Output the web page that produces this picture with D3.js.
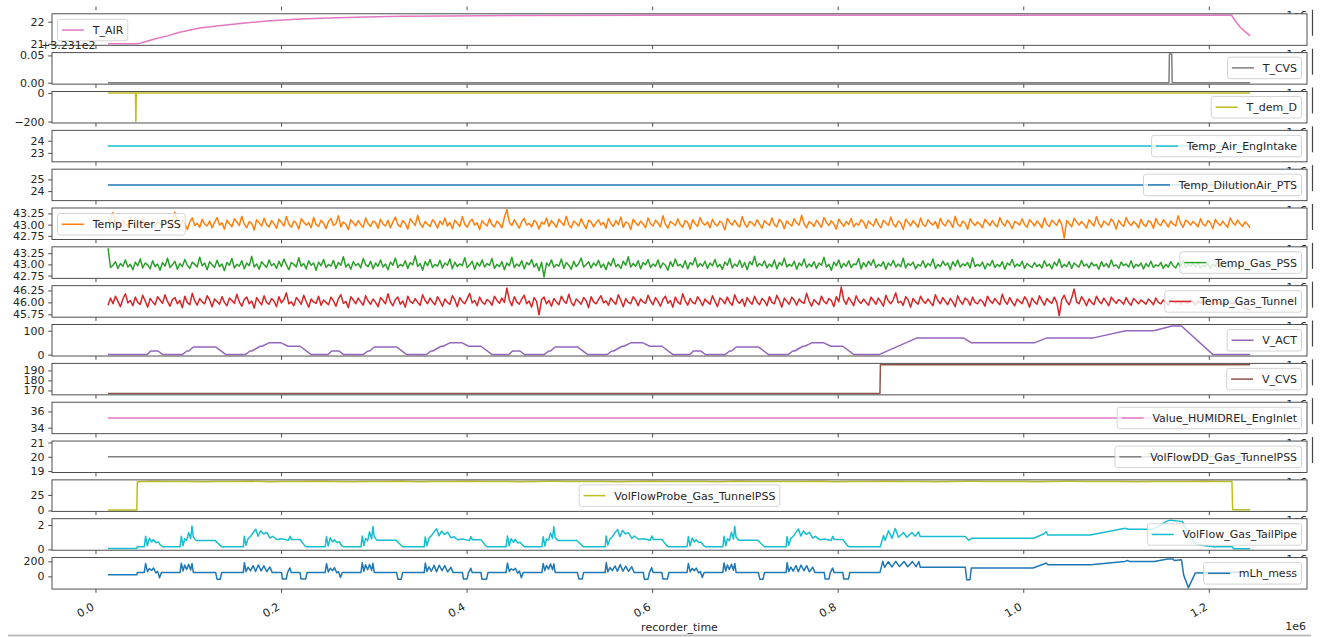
<!DOCTYPE html>
<html>
<head>
<meta charset="utf-8">
<script src="https://cdn.jsdelivr.net/npm/d3@7"></script>
<style>
  body { margin: 0; background: #ffffff; }
  svg text { font-family: "DejaVu Sans", sans-serif; }
</style>
</head>
<body>
<svg id="chart" width="1320" height="637"></svg>
<script>
// ---- recorder channels (times in seconds; recorder_time axis is in ms) ----
const seriesNames = ["T_AIR", "T_CVS", "T_dem_D", "Temp_Air_EngIntake", "Temp_DilutionAir_PTS",
  "Temp_Filter_PSS", "Temp_Gas_PSS", "Temp_Gas_Tunnel", "V_ACT", "V_CVS",
  "Value_HUMIDREL_EngInlet", "VolFlowDD_Gas_TunnelPSS", "VolFlowProbe_Gas_TunnelPSS",
  "VolFlow_Gas_TailPipe", "mLh_mess"];

const xTicksMs = [0, 200000, 400000, 600000, 800000, 1000000, 1200000];
const xTickLabels = ["0.0", "0.2", "0.4", "0.6", "0.8", "1.0", "1.2"];

const yTickValues = [[21, 22], [323.1, 323.15], [-200, 0], [23, 24], [24, 25],
  [42.75, 43, 43.25], [42.75, 43, 43.25], [45.75, 46, 46.25], [0, 100], [170, 180, 190],
  [34, 36], [19, 20, 21], [0, 25], [0, 2], [0, 200]];
const yTickLabels = [["21", "22"], ["0.00", "0.05"], ["\u2212200", "0"], ["23", "24"], ["24", "25"],
  ["42.75", "43.00", "43.25"], ["42.75", "43.00", "43.25"], ["45.75", "46.00", "46.25"], ["0", "100"],
  ["170", "180", "190"], ["34", "36"], ["19", "20", "21"], ["0", "25"], ["0", "2"], ["0", "200"]];

// ambient air temperature
const tAirT = [13, 45, 55, 65, 77, 90, 112, 130, 148, 166, 184, 202, 220, 252, 290, 330, 380, 450, 600, 900, 1224, 1226.3, 1230, 1233.5, 1239, 1244];
const tAirV = [21.00, 21.00, 21.12, 21.24, 21.36, 21.52, 21.71, 21.81, 21.88, 21.96, 22.03, 22.08, 22.12, 22.17, 22.21, 22.24, 22.26, 22.28, 22.29, 22.29, 22.29, 22.14, 21.93, 21.74, 21.54, 21.36];

// CVS temperature (short excursion near the end)
const tCvsT = [13, 1156.5, 1157, 1159.5, 1160, 1244];
const tCvsV = [323.1, 323.1, 323.1525, 323.1525, 323.1, 323.1];

// demanded temperature with one dropout
const tDemT = [13, 42.6, 43, 43.4, 1244];
const tDemV = [0, 0, -200, 0, 0];

// channels that stay constant over the run
const constT = [13, 1244];
const engIntakeV = [23.56, 23.56];
const dilutionAirV = [24.53, 24.53];
const humidRelV = [35.2, 35.2];
const volFlowDDV = [20, 20];

// fixed-rate sampled temperatures
const sampleStartS = 13;
const sampleStepS = 2.67;
const filterPssV = [
  43.05, 43.12, 43.27, 42.98, 43.06, 42.93, 43.10, 43.01, 42.96, 43.14, 43.03, 42.91, 43.08, 43.00, 43.17, 42.95, 43.04, 42.99, 43.11, 42.94, 43.07, 43.02,
  42.97, 43.13, 43.00, 42.92, 43.09, 43.28, 43.05, 42.96, 43.10, 43.02, 42.89, 43.06, 43.15, 42.98, 43.03, 42.94, 43.12, 43.01, 42.97, 43.08, 42.93, 43.05,
  43.16, 42.99, 43.04, 42.90, 43.10, 43.02, 42.95, 43.13, 43.06, 42.98, 43.19, 43.01, 42.93, 43.07, 43.03, 42.88, 43.11, 43.04, 42.97, 43.14, 43.00, 42.95,
  43.09, 43.02, 42.92, 43.12, 43.05, 42.97, 43.18, 43.01, 42.94, 43.08, 43.03, 42.90, 43.13, 43.06, 42.99, 43.04, 42.93, 43.16, 43.00, 42.96, 43.10, 43.03,
  42.91, 43.07, 43.14, 42.98, 43.02, 43.20, 42.95, 43.06, 43.01, 42.89, 43.11, 43.04, 42.97, 43.09, 43.00, 42.94, 43.15, 43.02, 42.96, 43.08, 43.05, 42.92,
  43.12, 43.01, 42.97, 43.10, 42.93, 43.06, 43.17, 43.00, 42.95, 43.09, 43.03, 42.90, 43.13, 43.05, 42.98, 43.21, 43.02, 42.94, 43.07, 43.01, 42.96, 43.11,
  43.04, 42.92, 43.08, 43.00, 43.15, 42.97, 43.05, 42.91, 43.10, 43.03, 42.96, 43.18, 43.01, 42.94, 43.07, 43.12, 42.99, 43.04, 42.89, 43.09, 43.02, 42.97,
  43.13, 43.00, 42.95, 43.08, 43.02, 42.93, 43.16, 43.34, 43.05, 42.98, 43.11, 43.01, 42.92, 43.07, 43.14, 42.99, 43.03, 42.95, 43.10, 43.04, 42.90, 43.06,
  43.01, 43.15, 42.96, 43.09, 43.02, 42.94, 43.12, 43.05, 42.98, 43.19, 43.00, 42.93, 43.08, 43.03, 42.97, 43.13, 43.01, 42.91, 43.10, 43.06, 42.95, 43.04,
  43.11, 42.99, 43.05, 42.92, 43.14, 43.02, 42.96, 43.09, 43.00, 43.17, 42.94, 43.06, 43.03, 42.89, 43.12, 43.04, 42.98, 43.08, 43.01, 42.93, 43.15, 43.02,
  42.97, 43.10, 43.04, 42.95, 43.20, 43.01, 42.92, 43.07, 43.03, 42.98, 43.13, 43.00, 42.94, 43.09, 43.05, 42.90, 43.11, 43.02, 42.96, 43.16, 43.04, 42.99,
  43.06, 42.93, 43.12, 43.01, 42.97, 43.08, 43.03, 42.88, 43.14, 43.05, 42.99, 43.10, 43.00, 42.95, 43.18, 43.02, 42.94, 43.07, 43.04, 42.97, 43.11, 43.01,
  42.92, 43.09, 43.03, 42.98, 43.15, 43.00, 42.95, 43.12, 43.06, 42.91, 43.08, 43.02, 42.97, 43.13, 43.04, 42.99, 43.21, 43.01, 42.93, 43.07, 43.03, 42.96,
  43.10, 43.02, 42.94, 43.16, 43.05, 42.98, 43.09, 43.01, 42.90, 43.12, 43.04, 42.96, 43.07, 43.00, 43.14, 42.95, 43.03, 42.99, 43.11, 43.06, 42.92, 43.08,
  43.02, 42.97, 43.13, 43.00, 42.93, 43.10, 43.04, 42.98, 43.17, 43.01, 42.95, 43.08, 43.03, 42.89, 43.12, 43.05, 42.97, 43.09, 43.02, 42.94, 43.15, 43.00,
  42.96, 43.11, 43.04, 42.99, 43.07, 42.92, 43.14, 43.02, 42.97, 43.10, 43.05, 42.94, 43.19, 43.01, 42.96, 43.08, 43.03, 42.90, 43.13, 43.04, 42.98, 43.06,
  43.01, 42.93, 43.12, 43.05, 42.98, 43.09, 43.00, 42.95, 43.16, 43.03, 42.97, 43.10, 43.02, 42.91, 43.07, 43.04, 42.99, 43.13, 43.00, 42.94, 43.11, 43.05,
  42.97, 43.08, 43.02, 42.93, 43.15, 43.01, 42.96, 43.10, 43.04, 42.98, 43.12, 43.00, 42.70, 43.09, 43.03, 42.95, 43.14, 43.06, 42.99, 43.07, 43.01, 42.92,
  43.11, 43.04, 42.97, 43.18, 43.02, 42.94, 43.08, 43.03, 42.99, 43.13, 43.05, 42.90, 43.10, 43.01, 42.96, 43.16, 43.04, 42.98, 43.07, 43.02, 42.93, 43.12,
  43.00, 42.96, 43.09, 43.05, 42.92, 43.14, 43.02, 42.98, 43.11, 43.04, 42.95, 43.08, 43.01, 42.97, 43.20, 43.03, 42.94, 43.10, 43.06, 42.99, 43.07, 43.02,
  42.95, 43.13, 43.01, 42.97, 43.09, 43.04, 42.91, 43.12, 43.03, 42.98, 43.08, 43.00, 42.94, 43.15, 43.05, 42.99, 43.10, 43.02, 42.96, 43.06, 43.01, 42.93];
const gasPssV = [
  43.36, 42.93, 42.98, 43.06, 42.91, 43.02, 42.96, 43.10, 42.94, 43.00, 42.88, 43.05, 42.97, 43.12, 42.92, 43.03, 42.99, 42.90, 43.08, 42.95, 43.01, 42.87,
  43.04, 42.96, 43.14, 42.93, 42.99, 43.07, 42.89, 43.02, 42.95, 43.11, 42.98, 42.91, 43.05, 43.00, 42.94, 43.16, 42.97, 43.03, 42.88, 43.06, 42.99, 42.93,
  43.09, 42.95, 43.01, 42.86, 43.04, 42.98, 43.13, 42.92, 43.00, 42.96, 43.08, 42.90, 43.03, 42.97, 43.18, 42.94, 43.01, 42.89, 43.06, 42.99, 42.93, 43.10,
  42.97, 43.02, 42.91, 43.07, 42.95, 43.12, 42.99, 42.88, 43.04, 43.00, 42.94, 43.15, 42.96, 43.02, 42.90, 43.08, 42.98, 43.03, 42.87, 43.05, 42.97, 43.11,
  42.93, 43.00, 42.96, 43.09, 42.91, 43.04, 42.98, 43.17, 42.94, 43.01, 42.89, 43.06, 42.97, 43.02, 42.92, 43.13, 42.99, 42.95, 43.07, 42.90, 43.03, 42.96,
  43.10, 42.94, 43.01, 42.88, 43.05, 42.98, 43.14, 42.93, 43.00, 42.96, 43.08, 42.91, 43.04, 42.99, 43.19, 42.95, 43.02, 42.87, 43.06, 42.97, 43.11, 42.93,
  43.00, 42.96, 43.09, 42.92, 43.03, 42.98, 43.12, 42.90, 43.05, 42.95, 43.01, 42.97, 43.15, 42.93, 42.99, 43.07, 42.89, 43.04, 42.96, 43.10, 42.94, 43.02,
  42.98, 43.13, 42.91, 43.00, 42.95, 43.06, 42.88, 43.03, 42.97, 43.16, 42.93, 43.01, 42.96, 43.08, 42.90, 43.04, 42.99, 43.11, 42.94, 43.02, 42.86, 43.05,
  42.72, 43.03, 42.97, 43.10, 42.93, 43.00, 42.96, 43.12, 42.91, 43.04, 42.98, 42.89, 43.07, 42.95, 43.02, 43.14, 42.94, 42.99, 43.06, 42.92, 43.03, 42.97,
  43.09, 42.93, 43.01, 42.88, 43.05, 42.97, 43.13, 42.95, 43.00, 42.91, 43.07, 42.98, 43.17, 42.94, 43.02, 42.96, 43.08, 42.90, 43.04, 42.99, 43.11, 42.93,
  43.01, 42.96, 43.10, 42.92, 43.03, 42.98, 42.87, 43.06, 42.95, 43.12, 42.97, 43.00, 42.93, 43.08, 42.90, 43.04, 42.99, 43.15, 42.94, 43.02, 42.96, 43.07,
  42.91, 43.03, 42.97, 43.11, 42.94, 43.00, 42.89, 43.05, 42.98, 43.13, 42.92, 43.01, 42.96, 43.09, 42.93, 43.04, 42.88, 43.06, 42.99, 43.18, 42.95, 43.02,
  42.97, 43.08, 42.92, 43.01, 42.95, 43.10, 42.90, 43.04, 42.98, 43.14, 42.94, 43.00, 42.96, 43.07, 42.89, 43.03, 42.97, 43.12, 42.93, 43.01, 42.95, 43.06,
  42.91, 43.03, 42.98, 43.16, 42.94, 43.00, 42.87, 43.05, 42.97, 43.10, 42.92, 43.02, 42.96, 43.08, 42.93, 43.01, 42.99, 43.13, 42.90, 43.04, 42.95, 43.07,
  42.98, 43.11, 42.93, 43.00, 42.96, 43.06, 42.89, 43.03, 42.97, 43.09, 42.94, 43.01, 42.95, 43.14, 42.92, 43.02, 42.98, 43.05, 42.90, 43.00, 42.96, 43.08,
  42.93, 43.02, 42.97, 43.12, 42.91, 43.00, 42.95, 43.07, 42.98, 43.03, 42.88, 43.06, 42.96, 43.10, 42.94, 43.01, 42.97, 43.04, 42.92, 43.15, 42.95, 43.00,
  42.96, 43.05, 42.90, 43.02, 42.97, 43.09, 42.93, 43.00, 42.95, 43.06, 42.89, 43.03, 42.98, 43.11, 42.94, 43.01, 42.96, 43.07, 42.91, 43.02, 42.97, 42.93,
  43.04, 42.95, 43.00, 42.92, 43.08, 42.96, 43.01, 42.90, 43.05, 42.97, 43.12, 42.93, 43.00, 42.95, 43.06, 42.91, 43.03, 42.98, 42.94, 43.09, 42.96, 43.01,
  42.92, 43.04, 42.97, 43.00, 42.89, 43.06, 42.95, 43.02, 42.93, 43.10, 42.96, 42.99, 42.91, 43.05, 42.97, 43.01, 42.94, 43.08, 42.92, 43.00, 42.96, 43.03,
  42.90, 43.02, 42.95, 43.07, 42.93, 42.99, 42.96, 43.04, 42.91, 43.00, 42.94, 43.06, 42.97, 42.92, 43.03, 42.95, 43.09, 42.93, 43.00, 42.96, 43.02, 42.94,
  43.05, 42.92, 42.98, 42.95, 43.03, 42.90, 43.01, 42.96, 43.07, 42.93, 42.99, 42.94, 43.04, 42.91, 43.00, 42.95, 43.02, 42.93, 42.97, 42.90, 42.88, 42.84];
const gasTunnelV = [
  45.94, 46.09, 45.97, 46.13, 46.02, 45.91, 46.07, 46.18, 45.99, 46.04, 45.93, 46.11, 46.00, 45.96, 46.15, 46.03, 45.90, 46.08, 46.01, 45.95, 46.12, 46.05,
  45.98, 46.16, 46.02, 45.92, 46.06, 46.10, 45.97, 46.04, 45.89, 46.13, 46.00, 45.95, 46.19, 46.03, 45.94, 46.08, 46.01, 45.97, 46.14, 46.05, 45.91, 46.07,
  46.02, 45.96, 46.12, 46.00, 45.93, 46.09, 46.04, 45.98, 46.17, 46.01, 45.92, 46.06, 46.11, 45.97, 46.03, 45.88, 46.10, 46.02, 45.95, 46.14, 46.00, 45.96,
  46.08, 46.03, 45.91, 46.12, 45.99, 46.06, 46.20, 45.97, 46.01, 45.93, 46.10, 46.04, 45.96, 46.15, 46.02, 45.90, 46.07, 46.01, 45.98, 46.13, 45.94, 46.05,
  46.00, 45.95, 46.11, 46.03, 45.92, 46.08, 46.16, 45.98, 46.02, 45.89, 46.12, 46.05, 45.97, 46.09, 46.01, 45.94, 46.14, 46.03, 45.96, 46.07, 46.00, 45.91,
  46.10, 46.04, 45.97, 46.18, 46.01, 45.93, 46.06, 46.11, 45.96, 46.03, 45.90, 46.13, 46.02, 45.98, 46.08, 46.00, 45.94, 46.16, 46.04, 45.97, 46.09, 46.01,
  45.95, 46.12, 46.03, 45.92, 46.07, 46.00, 45.96, 46.14, 46.05, 45.91, 46.10, 46.02, 45.97, 46.08, 46.19, 45.99, 46.04, 45.93, 46.11, 46.01, 45.96, 46.06,
  46.02, 45.94, 46.13, 46.04, 45.98, 46.09, 46.00, 46.30, 46.05, 45.93, 46.12, 46.01, 45.96, 46.07, 46.15, 45.97, 46.03, 45.90, 46.10, 46.02, 45.74, 46.06,
  46.11, 45.97, 46.04, 45.92, 46.08, 46.01, 45.95, 46.13, 46.03, 45.98, 46.17, 46.00, 45.93, 46.07, 46.02, 45.96, 46.10, 46.04, 45.89, 46.12, 46.01, 45.97,
  46.06, 46.14, 45.99, 46.03, 45.94, 46.09, 46.02, 45.96, 46.16, 46.04, 45.91, 46.08, 46.00, 45.97, 46.12, 46.05, 45.93, 46.07, 46.01, 45.98, 46.15, 46.03,
  45.95, 46.10, 46.02, 45.92, 46.06, 46.13, 45.98, 46.04, 45.90, 46.11, 46.01, 45.96, 46.18, 46.03, 45.94, 46.08, 46.00, 45.97, 46.12, 46.04, 45.93, 46.07,
  46.01, 45.96, 46.14, 46.02, 45.91, 46.09, 46.05, 45.97, 46.11, 46.00, 45.94, 46.16, 46.03, 45.98, 46.07, 45.92, 46.10, 46.02, 45.96, 46.13, 46.01, 45.95,
  46.08, 46.03, 45.93, 46.12, 46.00, 45.97, 46.15, 46.04, 45.90, 46.09, 46.02, 45.96, 46.11, 46.05, 45.94, 46.07, 46.01, 45.98, 46.19, 46.03, 45.92, 46.06,
  46.00, 45.95, 46.13, 46.02, 45.97, 46.08, 46.04, 45.91, 46.12, 46.01, 46.32, 46.05, 45.96, 46.10, 46.02, 45.93, 46.14, 46.03, 45.98, 46.07, 46.00, 45.94,
  46.11, 46.04, 45.96, 46.09, 46.01, 45.92, 46.15, 46.03, 45.97, 46.06, 46.20, 45.99, 46.02, 45.94, 46.12, 46.05, 45.90, 46.08, 46.01, 45.96, 46.13, 46.03,
  45.98, 46.07, 46.00, 45.93, 46.16, 46.04, 45.97, 46.10, 46.02, 45.95, 46.08, 46.01, 45.91, 46.14, 46.03, 45.96, 46.09, 46.05, 45.94, 46.11, 46.00, 45.97,
  46.06, 46.02, 45.92, 46.13, 46.04, 45.98, 46.08, 46.01, 45.95, 46.17, 46.03, 45.96, 46.10, 46.00, 45.93, 46.07, 46.02, 45.97, 46.12, 46.04, 45.90, 46.09,
  46.01, 45.96, 46.14, 46.03, 45.94, 46.08, 46.02, 45.98, 46.11, 46.00, 45.72, 46.06, 46.15, 46.02, 45.95, 46.09, 46.28, 46.01, 45.97, 46.12, 46.04, 45.93,
  46.07, 46.00, 45.95, 46.13, 46.03, 45.97, 46.09, 46.01, 45.93, 46.11, 46.04, 45.98, 46.06, 46.02, 45.96, 46.10, 46.00, 45.94, 46.08, 46.03, 45.97, 46.05,
  46.01, 45.96, 46.07, 46.02, 45.95, 46.09, 46.00, 45.97, 46.05, 46.01, 45.94, 46.06, 46.02, 45.98, 46.04, 45.96, 46.03, 46.00, 45.97, 46.05, 46.01, 45.95,
  46.03, 45.98, 46.02, 45.96, 46.04, 46.00, 45.97, 46.03, 45.99, 46.01, 45.96, 46.02, 45.98, 46.00, 45.97, 46.01, 45.95, 45.99, 45.92, 45.88, 45.86, 45.84];

// vehicle speed, km/h: four urban cycles followed by the extra-urban part
const vActT = [13,
  44, 55, 59, 67, 72, 93, 98, 100, 105, 129, 140, 161, 166, 168, 177, 179, 187, 199, 207, 220, 232,
  250, 254, 262, 267, 288, 293, 295, 300, 324, 335, 356, 361, 363, 372, 374, 382, 394, 402, 415, 427,
  445, 449, 457, 462, 483, 488, 490, 495, 519, 530, 551, 556, 558, 567, 569, 577, 589, 597, 610, 622,
  640, 644, 652, 657, 678, 683, 685, 690, 714, 725, 746, 751, 753, 762, 764, 772, 784, 792, 805, 817,
  844, 885, 935, 943, 1012, 1025, 1075, 1110, 1140, 1160, 1170, 1204, 1244];
const vActV = [0,
  0, 0, 15, 15, 0, 0, 15, 15, 32, 32, 0, 0, 15, 15, 35, 35, 50, 50, 35, 35, 0,
  0, 15, 15, 0, 0, 15, 15, 32, 32, 0, 0, 15, 15, 35, 35, 50, 50, 35, 35, 0,
  0, 15, 15, 0, 0, 15, 15, 32, 32, 0, 0, 15, 15, 35, 35, 50, 50, 35, 35, 0,
  0, 15, 15, 0, 0, 15, 15, 32, 32, 0, 0, 15, 15, 35, 35, 50, 50, 35, 35, 0,
  0, 70, 70, 50, 50, 70, 70, 100, 100, 120, 120, 0, 0];

// CVS flow setpoint
const vCvsT = [13, 845, 845.5, 1244];
const vCvsV = [167, 167, 195.6, 195.6];

// probe volume flow
const probeT = [13, 44,
  44.6, 62, 78, 97, 115, 131, 150, 168, 186, 203, 222, 240, 257, 275, 294, 311, 330, 348, 365, 384,
  402, 420, 437, 456, 474, 491, 510, 528, 546, 563, 582, 600, 617, 636, 654, 671, 690, 708, 726, 743,
  762, 780, 797, 816, 834, 851, 870, 888, 906, 923, 942, 960, 977, 996, 1014, 1031, 1050, 1068, 1086, 1103,
  1122, 1140, 1157, 1176, 1194, 1212, 1224.4,
  1225.2, 1244];
const probeV = [0.8, 0.8,
  46.4, 46.9, 46.5, 46.8, 46.3, 46.7, 46.6, 47.0, 46.4, 46.8, 46.5, 46.9, 46.6, 46.3, 46.8, 46.5, 46.9, 46.4, 46.7, 46.6,
  47.0, 46.5, 46.8, 46.4, 46.7, 46.9, 46.5, 46.6, 46.8, 46.3, 46.7, 46.9, 46.5, 46.8, 46.6, 46.4, 46.9, 46.7, 46.5, 46.8,
  46.6, 47.0, 46.4, 46.7, 46.5, 46.9, 46.6, 46.8, 46.4, 46.7, 46.9, 46.5, 46.8, 46.6, 46.3, 46.7, 46.9, 46.5, 46.8, 46.6,
  46.4, 46.8, 46.7, 46.5, 46.9, 46.6, 46.7,
  1.2, 1.0];

// tailpipe exhaust volume flow
const tailPipeT = [13, 44, 44.5,
  52, 53.5, 55.3, 57.5, 60, 61.8, 64.7, 67.2, 69.7, 72, 90.6, 92, 93.8, 95.6, 97.8, 99.9, 102.1, 103.5, 104.9, 107.8, 128.3, 135.5, 158.8, 159.9, 161.7, 163.9, 166.8, 169.6, 172.2, 174.7, 177.6, 180.4, 184, 187.6, 190.5, 194.8, 200.2, 207.4, 209.2, 210.6, 219.9, 225.3, 227.2,
  247, 248.5, 250.3, 252.5, 255, 256.8, 259.7, 262.2, 264.7, 267, 285.6, 287, 288.8, 290.6, 292.8, 294.9, 297.1, 298.5, 299.9, 302.8, 323.3, 330.5, 353.8, 354.9, 356.7, 358.9, 361.8, 364.6, 367.2, 369.7, 372.6, 375.4, 379, 382.6, 385.5, 389.8, 395.2, 402.4, 404.2, 405.6, 414.9, 420.3, 422.2,
  442, 443.5, 445.3, 447.5, 450, 451.8, 454.7, 457.2, 459.7, 462, 480.6, 482, 483.8, 485.6, 487.8, 489.9, 492.1, 493.5, 494.9, 497.8, 518.3, 525.5, 548.8, 549.9, 551.7, 553.9, 556.8, 559.6, 562.2, 564.7, 567.6, 570.4, 574, 577.6, 580.5, 584.8, 590.2, 597.4, 599.2, 600.6, 609.9, 615.3, 617.2,
  637, 638.5, 640.3, 642.5, 645, 646.8, 649.7, 652.2, 654.7, 657, 675.6, 677, 678.8, 680.6, 682.8, 684.9, 687.1, 688.5, 689.9, 692.8, 713.3, 720.5, 743.8, 744.9, 746.7, 748.9, 751.8, 754.6, 757.2, 759.7, 762.6, 765.4, 769, 772.6, 775.5, 779.8, 785.2, 792.4, 794.2, 795.6, 804.9, 810.3, 812.2,
  845.3, 848.9, 850.7, 854.2, 857.9, 861.5, 865, 870.4, 874, 879.4, 883, 886.6, 888.4, 937, 940.5, 944.1, 1010.6, 1021.4, 1024, 1025.7, 1071.7, 1109.4, 1113, 1139.6, 1154.4, 1158, 1167, 1171, 1180, 1186, 1195, 1205, 1225, 1226, 1244];
const tailPipeV = [0.08, 0.08, 0.21,
  0.21, 1.08, 0.29, 0.92, 0.60, 0.81, 0.55, 0.60, 0.34, 0.21, 0.21, 1.08, 0.29, 0.87, 0.74, 1.39, 0.87, 1.92, 1.00, 0.74, 0.74, 0.21, 0.21, 1.08, 0.34, 0.87, 1.08, 1.39, 1.66, 1.08, 1.53, 1.26, 1.39, 0.92, 1.08, 0.81, 0.87, 0.74, 1.08, 0.81, 0.81, 0.29, 0.21,
  0.21, 1.05, 0.27, 0.95, 0.62, 0.78, 0.57, 0.63, 0.32, 0.21, 0.21, 1.10, 0.31, 0.90, 0.70, 1.45, 0.85, 1.88, 1.02, 0.76, 0.76, 0.21, 0.21, 1.02, 0.30, 0.92, 1.15, 1.45, 1.70, 1.12, 1.50, 1.22, 1.42, 0.95, 1.05, 0.79, 0.85, 0.72, 1.05, 0.80, 0.80, 0.27, 0.21,
  0.21, 1.10, 0.30, 0.88, 0.58, 0.83, 0.52, 0.58, 0.36, 0.21, 0.21, 1.04, 0.28, 0.85, 0.76, 1.35, 0.90, 1.85, 0.98, 0.73, 0.73, 0.21, 0.21, 1.10, 0.36, 0.85, 1.05, 1.40, 1.62, 1.05, 1.56, 1.28, 1.36, 0.90, 1.10, 0.83, 0.88, 0.75, 1.10, 0.82, 0.82, 0.30, 0.21,
  0.21, 1.06, 0.28, 0.93, 0.61, 0.80, 0.56, 0.61, 0.33, 0.21, 0.21, 1.07, 0.30, 0.88, 0.72, 1.42, 0.86, 1.90, 1.01, 0.75, 0.75, 0.21, 0.21, 1.06, 0.33, 0.89, 1.10, 1.42, 1.68, 1.10, 1.52, 1.24, 1.40, 0.93, 1.07, 0.80, 0.86, 0.73, 1.07, 0.81, 0.81, 0.28, 0.21,
  0.21, 1.13, 0.74, 1.53, 0.92, 1.71, 1.00, 1.39, 1.00, 1.39, 1.08, 1.45, 1.05, 1.05, 0.74, 0.92, 0.92, 1.26, 1.45, 1.18, 1.18, 1.74, 1.66, 1.66, 2.32, 2.40, 2.32, 2.28, 0.90, 0.45, 0.30, 0.22, 0.21, 0.06, 0.05];

// measured fuel mass flow
const mLhT = [13, 44, 44.5,
  52, 53.5, 55.5, 57.5, 60, 62, 64.5, 66.5, 68.5, 70.5, 90.6, 92, 93.8, 95.6, 97.8, 99.9, 102.1, 103.5, 105, 129, 130.5, 134, 135.5, 158.8, 160, 161.7, 164, 166.5, 169.5, 172, 175, 178, 181, 184, 187.5, 190, 200, 201, 205, 206.5, 209, 210.5, 220, 221, 226, 227.5,
  247, 248.5, 250.5, 252.5, 255, 257, 259.5, 261.5, 263.5, 265.5, 285.6, 287, 288.8, 290.6, 292.8, 294.9, 297.1, 298.5, 300, 324, 325.5, 329, 330.5, 353.8, 355, 356.7, 359, 361.5, 364.5, 367, 370, 373, 376, 379, 382.5, 385, 395, 396, 400, 401.5, 404, 405.5, 415, 416, 421, 422.5,
  442, 443.5, 445.5, 447.5, 450, 452, 454.5, 456.5, 458.5, 460.5, 480.6, 482, 483.8, 485.6, 487.8, 489.9, 492.1, 493.5, 495, 519, 520.5, 524, 525.5, 548.8, 550, 551.7, 554, 556.5, 559.5, 562, 565, 568, 571, 574, 577.5, 580, 590, 591, 595, 596.5, 599, 600.5, 610, 611, 616, 617.5,
  637, 638.5, 640.5, 642.5, 645, 647, 649.5, 651.5, 653.5, 655.5, 675.6, 677, 678.8, 680.6, 682.8, 684.9, 687.1, 688.5, 690, 714, 715.5, 719, 720.5, 743.8, 745, 746.7, 749, 751.5, 754.5, 757, 760, 763, 766, 769, 772.5, 775, 785, 786, 790, 791.5, 794, 795.5, 805, 806, 811, 812.5,
  845, 848, 850, 854, 858, 862, 866, 871, 875, 880, 884, 887, 888.5, 937, 938.5, 942, 943.5, 1010, 1021, 1024, 1026, 1072, 1109, 1112, 1114, 1141, 1155, 1161, 1162, 1170, 1172.5, 1177.5, 1185, 1244];
const mLhV = [20, 20, 50,
  50, 172, 62, 104, 78, 112, 45, 66, -18, 50, 50, 176, 72, 150, 92, 162, 84, 170, 50, 50, -38, -38, 50, 50, 182, 62, 122, 72, 142, 64, 152, 72, 140, 62, 124, 50, 50, -36, -36, 50, 112, 50, 50, -36, -36, 50,
  50, 168, 58, 108, 74, 116, 48, 62, -14, 50, 50, 180, 68, 154, 88, 158, 80, 174, 50, 50, -40, -40, 50, 50, 178, 66, 126, 68, 146, 60, 148, 76, 144, 58, 120, 50, 50, -34, -34, 50, 108, 50, 50, -38, -38, 50,
  50, 176, 66, 100, 82, 108, 42, 70, -20, 50, 50, 172, 76, 146, 96, 166, 88, 166, 50, 50, -36, -36, 50, 50, 184, 58, 118, 76, 138, 68, 156, 68, 136, 66, 128, 50, 50, -38, -38, 50, 116, 50, 50, -34, -34, 50,
  50, 170, 60, 106, 76, 110, 46, 64, -16, 50, 50, 178, 70, 152, 90, 160, 82, 172, 50, 50, -38, -38, 50, 50, 180, 64, 124, 70, 144, 62, 150, 74, 142, 60, 122, 50, 50, -36, -36, 50, 110, 50, 50, -36, -36, 50,
  50, 200, 120, 195, 125, 200, 130, 198, 128, 196, 130, 195, 120, 120, -45, -45, 112, 112, 160, 178, 155, 155, 199, 210, 199, 199, 230, 231, 212, 220, 10, -150, 46, 59];

// ---- layout ----
const W = 1320, H = 637;
const plotL = 52, plotR = 1307;
const firstTop = 13.8, pitch = 38.84, panelH = 31.5;
const fs = 11;
const textColor = "#262626";
const frameColor = "#3c3c3c";
const seriesColors = ["#e377c2", "#7f7f7f", "#bcbd22", "#17becf", "#1f77b4", "#ff7f0e", "#2ca02c",
  "#d62728", "#9467bd", "#8c564b", "#e377c2", "#7f7f7f", "#bcbd22", "#17becf", "#1f77b4"];
const legendLocs = ["upper left", "lower right", "center right", "center right", "center right",
  "upper left", "center right", "center right", "center right", "center right", "center right",
  "center right", "center", "center right", "center right"];
const xDomainMs = [-47400, 1305300];

const sampledT = filterPssV.map((_, i) => sampleStartS + i * sampleStepS);
const panelTimes = [tAirT, tCvsT, tDemT, constT, constT, sampledT, sampledT, sampledT,
  vActT, vCvsT, constT, constT, probeT, tailPipeT, mLhT];
const panelValues = [tAirV, tCvsV, tDemV, engIntakeV, dilutionAirV, filterPssV, gasPssV, gasTunnelV,
  vActV, vCvsV, humidRelV, volFlowDDV, probeV, tailPipeV, mLhV];

const svg = d3.select("#chart");
svg.append("rect").attr("width", W).attr("height", H).attr("fill", "#fff");
const defs = svg.append("defs");

const x = d3.scaleLinear().domain(xDomainMs).range([plotL, plotR]);

// autoscale like the plotting default: pad 5% of the data range, widen flat series first
function autoDomain(vals) {
  let lo = d3.min(vals), hi = d3.max(vals);
  if (hi - lo <= 1e-9 * Math.max(1, Math.abs(hi))) {
    lo -= 0.05 * Math.abs(lo);
    hi += 0.05 * Math.abs(hi);
  }
  const m = (hi - lo) * 0.05;
  return [lo - m, hi + m];
}

function drawXTicks(g, bottom) {
  xTicksMs.forEach(t => {
    g.append("line").attr("x1", x(t)).attr("x2", x(t))
      .attr("y1", bottom).attr("y2", bottom + 3.8)
      .attr("stroke", frameColor).attr("stroke-width", 0.9);
  });
}

// offset label under each shared x axis; the next panel's background hides most of it
function drawOffsetBelow(g, bottom) {
  g.append("text").attr("x", plotR).attr("y", bottom + 5)
    .attr("text-anchor", "end").attr("dominant-baseline", "hanging")
    .attr("font-size", fs).attr("fill", textColor).text("1e6");
}

function drawLegend(g, name, color, loc, top, bottom) {
  const pad = 4.4, handleLen = 22, textPad = 8.8, boxH = 21.5;
  const lg = g.append("g");
  const rect = lg.append("rect");
  const label = lg.append("text").attr("font-size", fs).attr("fill", textColor).text(name);
  const tw = label.node().getComputedTextLength();
  const boxW = pad + handleLen + textPad + tw + pad;
  let bx, by;
  if (loc === "upper left") { bx = plotL + 5.5; by = top + 5.5; }
  else if (loc === "lower right") { bx = plotR - 5.5 - boxW; by = bottom - 5.5 - boxH; }
  else if (loc === "center") { bx = (plotL + plotR) / 2 - boxW / 2; by = (top + bottom) / 2 - boxH / 2; }
  else { bx = plotR - 5.5 - boxW; by = (top + bottom) / 2 - boxH / 2; }
  rect.attr("x", bx).attr("y", by).attr("width", boxW).attr("height", boxH)
    .attr("rx", 2.5).attr("fill", "#fff").attr("fill-opacity", 0.8)
    .attr("stroke", "#cfcfcf").attr("stroke-width", 0.9);
  const cy = by + boxH / 2;
  lg.insert("line", "text").attr("x1", bx + pad).attr("x2", bx + pad + handleLen)
    .attr("y1", cy).attr("y2", cy).attr("stroke", color).attr("stroke-width", 1.5);
  label.attr("x", bx + pad + handleLen + textPad).attr("y", cy).attr("dy", "0.36em");
}

// ticks and offset label of the strip above the first panel
{
  const g = svg.append("g");
  const virtBottom = firstTop - (pitch - panelH);
  drawXTicks(g, virtBottom);
  drawOffsetBelow(g, virtBottom);
}

const nPanels = seriesNames.length;
seriesNames.forEach((name, i) => {
  const top = firstTop + i * pitch;
  const bottom = top + panelH;
  const g = svg.append("g");

  g.append("rect").attr("x", plotL).attr("y", top).attr("width", plotR - plotL)
    .attr("height", panelH).attr("fill", "#fff");

  defs.append("clipPath").attr("id", "clip" + i).append("rect")
    .attr("x", plotL).attr("y", top).attr("width", plotR - plotL).attr("height", panelH);

  const vals = panelValues[i];
  const times = panelTimes[i];
  const y = d3.scaleLinear().domain(autoDomain(vals)).range([bottom, top]);
  const pts = times.map((t, j) => [t * 1000, vals[j]]);

  g.append("path").datum(pts)
    .attr("clip-path", `url(#clip${i})`)
    .attr("d", d3.line().x(d => x(d[0])).y(d => y(d[1])))
    .attr("fill", "none").attr("stroke", seriesColors[i])
    .attr("stroke-width", 1.5).attr("stroke-linejoin", "round");

  g.append("rect").attr("x", plotL).attr("y", top).attr("width", plotR - plotL)
    .attr("height", panelH).attr("fill", "none")
    .attr("stroke", frameColor).attr("stroke-width", 0.9);

  const labels = yTickLabels[i];
  const ya = g.append("g").attr("transform", `translate(${plotL},0)`)
    .call(d3.axisLeft(y).tickValues(yTickValues[i]).tickFormat((d, j) => labels[j])
      .tickSize(3.8).tickSizeOuter(0).tickPadding(3.6));
  ya.select(".domain").remove();
  ya.attr("font-size", fs).attr("font-family", "DejaVu Sans, sans-serif").attr("color", textColor);
  ya.selectAll("line").attr("stroke", frameColor).attr("stroke-width", 0.9);

  drawXTicks(g, bottom);

  if (name === "T_CVS") {
    g.append("text").attr("x", 41).attr("y", top - 4)
      .attr("font-size", fs).attr("fill", textColor).text("+3.231e2");
  }

  drawLegend(g, name, seriesColors[i], legendLocs[i], top, bottom);

  if (i < nPanels - 1) {
    drawOffsetBelow(g, bottom);
  } else {
    xTicksMs.forEach((t, j) => {
      g.append("text")
        .attr("transform", `translate(${x(t) - 5},${bottom + 13}) rotate(-30)`)
        .attr("text-anchor", "end").attr("dominant-baseline", "hanging")
        .attr("font-size", fs).attr("fill", textColor).text(xTickLabels[j]);
    });
    g.append("text").attr("x", (plotL + plotR) / 2).attr("y", 630.5)
      .attr("text-anchor", "middle").attr("font-size", fs).attr("fill", textColor)
      .text("recorder_time");
    g.append("text").attr("x", plotR - 1).attr("y", 630)
      .attr("text-anchor", "end").attr("font-size", fs).attr("fill", textColor).text("1e6");
  }
});

// window edge marks along the right side and the bottom rule
for (let i = 0; i < 12; i++) {
  const top = firstTop + i * pitch;
  svg.append("line").attr("x1", 1312.5).attr("x2", 1312.5)
    .attr("y1", top - 4).attr("y2", top + 22)
    .attr("stroke", "#444").attr("stroke-width", 1.2);
}
svg.append("line").attr("x1", 8).attr("x2", 1311).attr("y1", 635.5).attr("y2", 635.5)
  .attr("stroke", "#bdbdbd").attr("stroke-width", 2);
</script>
</body>
</html>
